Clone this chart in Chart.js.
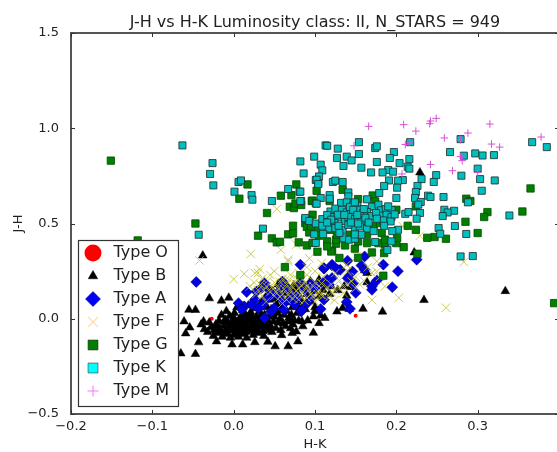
<!DOCTYPE html>
<html>
<head>
<meta charset="utf-8">
<title>J-H vs H-K</title>
<script src="https://cdn.jsdelivr.net/npm/chart.js@4"></script>
<style>
  html, body { margin: 0; padding: 0; background: #fff; overflow: hidden; }
  #wrap { width: 557px; height: 452px; overflow: hidden; }
  canvas { display: block; }
</style>
</head>
<body>
<div id="wrap"><canvas id="c" width="566" height="452"></canvas></div>
<script>
// values, [H-K, J-H]
const starsO = [[-.027,.000],[.150,.016]]

const starsB = [
  [-.038,.332],[-.030,.107],[-.055,.047],[-.047,.046],[-.015,.095],[-.006,.110],[-.061,-.014],[-.037,-.014],
  [-.054,-.046],[-.059,-.077],[-.043,-.124],[-.065,-.182],[-.047,-.185],[.051,-.145],[.067,-.145],[.079,-.119],
  [-.021,-.119],[-.002,-.135],[.011,-.135],[.026,-.123],[.042,-.121],[.059,-.086],[.072,-.075],[.077,-.067],
  [.073,-.030],[.334,.145],[.234,.098],[.183,.037],[.159,.052],[.127,.038],[.098,-.074],[.229,.768],[.222,.348],
  [.134,.056],[.142,.051],[.139,.121],[.164,.191],[.144,.166],[.136,.170],[.107,.017],[.112,.004],[.098,.012],
  [.091,-.009],[.105,-.023],[.084,-.014],[.094,.196],[.105,.205],[.161,.254],[.164,.240],
  [-.040,-.030],[-.036,-.055],[-.032,-.070],[-.030,-.020],[-.028,-.045],[-.025,-.090],[-.024,-.060],[-.022,-.030],
  [-.020,-.075],[-.018,-.010],[-.017,-.050],[-.015,.020],[-.014,-.095],[-.012,-.035],[-.011,-.065],[-.010,-.005],
  [-.009,.040],[-.008,-.080],[-.006,-.045],[-.005,.015],[-.004,-.100],[-.003,-.025],[-.002,-.060],[.000,-.085],
  [.001,.030],[.002,-.010],[.003,-.040],[.004,.060],[.005,-.070],[.006,-.095],[.007,-.025],[.008,.005],[.010,-.055],
  [.011,.045],[.012,-.080],[.013,-.015],[.014,.025],[.015,-.040],[.016,-.100],[.018,.070],[.019,-.065],[.020,-.005],
  [.021,.035],[.022,-.030],[.024,-.085],[.025,.055],[.026,-.050],[.028,.010],[.030,-.015],[.031,-.075],[.032,.040],
  [.034,.085],[.035,-.040],[.037,-.090],[.038,.020],[.040,-.060],[.041,.060],[.042,-.010],[.044,.100],[.045,-.035],
  [.047,-.070],[.048,.030],[.050,.010],[.052,-.050],[.053,.075],[.055,-.020],[.056,.120],[.058,-.060],[.060,.045],
  [.062,.020],[.064,-.040],[.066,.090],[.068,.005],[.070,-.050],[.072,.060],[.075,.140],[.078,.030],[.080,-.010],
  [.083,.100],[.085,-.040],[.088,.050],[.090,.130],[.095,.090],[.100,.060],[.060,.170],[.075,.160],[.055,.180],
  [.110,.150],[.120,.170],[.100,.040],[-.020,-.040],[-.010,-.070],[.000,-.030],[.005,-.050],[.010,-.020],
  [.015,-.070],[.020,-.045],[.025,-.020],[.030,-.045],[-.005,-.060],[.012,.010],[.022,.015],[.035,.005],
  [-.016,-.070],[-.012,-.015],[-.007,-.020],[-.003,-.050],[.000,-.055],[.000,.005],[.003,-.075],[.006,-.010],
  [.008,-.040],[.009,-.065],[.012,-.050],[.016,-.015],[.017,-.055],[.018,.010],[.023,-.060],[.024,-.005],[.027,-.035],
  [.029,-.065],[.033,-.020],[.033,.015],[.036,-.065],[.039,-.030],[.043,-.050],[.044,.015],[.046,.050],[.049,-.015],
  [.054,.030],[.057,.000],[.059,.060],[.061,-.025],[.065,.040],[.067,-.015],[.071,.020],[.074,-.005],[.077,.085],[.082,.060],
  [.040,.120],[.048,.145],[.052,.105],[.063,.135],[.069,.115],[.074,.175],[.079,.130],[.086,.165],[.093,.110],
  [.099,.145],[.106,.120],[.113,.175],[.118,.130],[.128,.150]
]

const starsA = [
  [-.046,.193],[.082,.284],[.202,.250],[.195,.166],[.184,.284],[.176,.201],[.170,.170],[.170,.152],[.150,.136],
  [.146,.248],[.147,.187],[.140,.214],[.161,.327],[.225,.310],[.140,.305],[.121,.280],[.131,.257],[.111,.263],
  [.157,.280],[.161,.257],[.139,.088],[.143,.052],[.107,.051],[.115,.205],[.121,.214],[.128,.257],[.117,.179],
  [.109,.187],[.082,.187],[.058,.170],[.078,.117],[.095,.109],[.111,.100],[.068,.100],[.083,.038],[.060,.196],
  [.056,.117],[.016,.140],[.006,.082],[.038,.187],[.028,.143],[.060,.187],[.078,.105],[.111,.266],[.121,.284],
  [.050,.056],[.030,.056],[.062,.047],[.084,.047],[.072,.117],[.042,.109],[.054,.135],[.026,.100],[.013,.065],
  [.038,.004],[.095,.187],[.082,.179],[.066,.161],[.036,.074],[.046,.038],
  [.034,.160],[.044,.150],[.048,.125],[.070,.135],[.088,.150],[.100,.160],[.063,.085],[.075,.075],[.090,.080],
  [.022,.075],[.010,.050]
]

const starsF = [
  [-.042,.306],[.021,.340],[.000,.208],[.013,.236],[.032,.261],[.026,.240],[.058,.362],[.067,.301],[.077,.389],
  [.053,.576],[.283,.298],[.261,.058],[.203,.110],[.170,.098],[.124,.098],[.229,.436],[.093,.317],[.108,.292],
  [.176,.301],[.186,.170],[.208,.485],[.139,.284],[.090,.231],[.151,.327],[.067,.310],[.176,.248],[.135,.135],
  [.107,.126],[.020,.170],[.025,.190],[.030,.150],[.035,.210],[.040,.170],[.045,.140],[.045,.230],[.050,.190],
  [.050,.120],[.055,.160],[.060,.210],[.060,.130],[.065,.180],[.065,.100],[.070,.150],[.070,.230],[.075,.120],
  [.075,.190],[.080,.160],[.080,.100],[.085,.140],[.085,.210],[.090,.110],[.090,.170],[.095,.130],[.100,.190],
  [.100,.090],[.105,.150],[.110,.220],[.110,.120],[.120,.180],[.120,.140],[.125,.240],[.130,.200],[.130,.160],
  [.140,.250],[.140,.180],[.150,.220],[.150,.160],[.160,.200],[.165,.270],[.170,.240],[.035,.120],[.030,.240],
  [.050,.250],[.040,.090],[.060,.080],[.100,.250],[.090,.270],[.080,.240],[.180,.220],
  [.028,.130],[.033,.180],[.037,.150],[.042,.200],[.047,.165],[.052,.140],[.057,.115],[.058,.190],[.062,.155],
  [.067,.125],[.068,.205],[.072,.170],[.073,.105],[.077,.145],[.078,.210],[.082,.125],[.083,.175],[.087,.095],
  [.088,.190],[.092,.150],[.097,.115],[.098,.170],[.103,.130],[.108,.185],[.115,.165],[.118,.115],[.125,.150],
  [.135,.170],[.145,.195],[.155,.180]
]

const starsG = [
  [-.151,.830],[-.047,.500],[.017,.705],[.007,.630],[.041,.555],[.058,.646],[.077,.705],[.071,.649],[.069,.588],
  [.074,.581],[.076,.605],[.083,.597],[.073,.488],[.088,.502],[.030,.436],[.047,.422],[.053,.401],[.057,.404],
  [.067,.443],[.073,.448],[.080,.401],[.063,.271],[.082,.229],[-.118,.411],[.365,.684],[.355,.563],[.312,.560],
  [.308,.534],[.285,.509],[.286,.630],[.291,.618],[.214,.488],[.224,.467],[.224,.590],[.171,.647],[.134,.677],
  [.102,.672],[.118,.618],[.096,.618],[.153,.628],[.300,.450],[.261,.420],[.247,.429],[.238,.425],[.226,.341],
  [.184,.226],[.394,.082],[.090,.385],[.103,.352],[.130,.319],[.153,.320],[.149,.368],[.137,.385],[.170,.348],
  [.185,.345],[.209,.376],[.200,.397],[.186,.389],[.126,.394],[.115,.406],[.121,.357],[.097,.620],[.120,.353],
  [.178,.397],[.201,.424],[.090,.482],[.093,.453],[.101,.467],[.105,.436],[.126,.415],[.127,.441],[.143,.441],
  [.164,.441],[.172,.485],[.182,.450],[.180,.502],[.097,.546],[.200,.572],[.174,.616],[.097,.398],[.119,.467],
  [.186,.415],[.164,.397],[.153,.406],[.095,.485],[.093,.516],[.115,.380]
]

const starsK = [
  [-.063,.910],[-.026,.817],[-.029,.760],[-.025,.700],[.006,.718],[.009,.726],[.001,.667],[.022,.649],[.023,.625],
  [.047,.618],[.036,.473],[.082,.826],[.086,.763],[.067,.681],[.081,.667],[.083,.618],[.088,.523],[-.043,.441],
  [.113,.910],[.115,.908],[.128,.893],[.154,.927],[.174,.896],[.176,.905],[.197,.875],[.217,.927],[.279,.943],
  [.266,.875],[.367,.927],[.385,.901],[.297,.868],[.306,.857],[.320,.859],[.283,.856],[.099,.851],[.127,.844],
  [.139,.851],[.145,.831],[.154,.865],[.192,.844],[.216,.838],[.204,.817],[.176,.823],[.107,.809],[.135,.802],
  [.214,.798],[.216,.788],[.157,.793],[.109,.779],[.190,.781],[.196,.772],[.183,.768],[.169,.768],[.105,.747],
  [.249,.754],[.280,.751],[.300,.788],[.303,.733],[.321,.726],[.231,.733],[.246,.718],[.191,.726],[.208,.728],
  [.202,.725],[.101,.728],[.104,.710],[.122,.718],[.125,.725],[.134,.718],[.226,.697],[.185,.697],[.201,.688],
  [.082,.667],[.118,.649],[.141,.663],[.179,.660],[.224,.665],[.305,.672],[.223,.634],[.200,.634],[.239,.646],
  [.242,.639],[.258,.639],[.288,.611],[.082,.618],[.101,.605],[.230,.613],[.227,.599],[.271,.567],[.259,.572],
  [.263,.558],[.257,.539],[.339,.542],[.229,.555],[.211,.551],[.215,.560],[.225,.525],[.252,.476],[.272,.487],
  [.286,.445],[.279,.327],[.294,.329],[.254,.446],[.102,.730],[.104,.707],[.118,.630],[.107,.634],[.102,.604],
  [.141,.642],[.164,.627],[.132,.608],[.139,.611],[.147,.597],[.152,.593],[.170,.588],[.178,.599],[.181,.569],
  [.187,.576],[.194,.571],[.119,.563],[.125,.578],[.133,.572],[.139,.558],[.147,.558],[.155,.572],[.159,.555],
  [.164,.560],[.169,.539],[.182,.541],[.188,.546],[.194,.534],[.184,.516],[.193,.511],[.185,.488],[.202,.467],
  [.195,.460],[.088,.529],[.093,.513],[.101,.500],[.109,.523],[.122,.534],[.128,.532],[.137,.513],[.141,.534],
  [.149,.523],[.157,.513],[.124,.502],[.116,.474],[.109,.488],[.125,.476],[.134,.467],[.149,.473],[.141,.493],
  [.164,.474],[.155,.485],[.099,.443],[.110,.445],[.135,.422],[.142,.415],[.149,.420],[.157,.441],[.149,.443],
  [.174,.403],[.194,.406],[.101,.398],[.189,.361],[.128,.546],[.143,.587],[.149,.611],[.147,.572],[.160,.576],
  [.115,.545],[.120,.520],[.129,.488],[.136,.545],[.144,.505],[.152,.545],[.153,.500],[.162,.530],[.166,.505],
  [.175,.555],[.176,.525],[.190,.590],[.198,.548],[.115,.505],[.130,.450],[.172,.460]
]

const starsM = [
  [.166,1.010],[.209,1.019],[.224,.985],[.241,1.024],[.242,1.038],[.249,1.052],[.288,.975],[.259,.949],[.279,.940],
  [.315,1.022],[.317,.917],[.327,.901],[.378,.954],[.216,.927],[.211,.915],[.148,.908],[.242,.810],[.207,.760],
  [.279,.851],[.281,.830],[.269,.777],[.300,.768]
]

const typeNames = ['Type O', 'Type B', 'Type A', 'Type F', 'Type G', 'Type K', 'Type M']
const starLists = [starsO, starsB, starsA, starsF, starsG, starsK, starsM]
const xTicks = [-0.2, -0.1, 0.0, 0.1, 0.2, 0.3]
const yTicks = [-0.5, 0.0, 0.5, 1.0, 1.5]

const FONT = '"DejaVu Sans", sans-serif'
const INK = '#222'

// look of the marks in the plot and in the legend (the legend ones differ a bit)
const marks = [
  { pointStyle: 'circle', radius: 2, backgroundColor: '#ff0000', borderColor: '#ff0000', borderWidth: 0 },
  { pointStyle: 'triangle', radius: 5, backgroundColor: '#000', borderColor: '#000', borderWidth: 0.5 },
  { pointStyle: 'rectRot', radius: 5.5, backgroundColor: '#0000e0', borderColor: '#000060', borderWidth: 0.5 },
  { pointStyle: 'crossRot', radius: 6, backgroundColor: 'transparent', borderColor: 'rgba(192,192,40,0.8)', borderWidth: 1 },
  { pointStyle: 'rect', radius: 5.2, backgroundColor: '#007f00', borderColor: '#004d00', borderWidth: 0.8 },
  { pointStyle: 'rect', radius: 5, backgroundColor: '#00bfbf', borderColor: 'rgba(30,50,50,0.85)', borderWidth: 1 },
  { pointStyle: 'cross', radius: 3.8, backgroundColor: 'transparent', borderColor: '#d84fd8', borderWidth: 1 }
]
const legendMarks = [
  { pointStyle: 'circle', radius: 8.5, backgroundColor: '#ff0000', borderColor: '#ff0000', borderWidth: 0 },
  { pointStyle: 'triangle', radius: 5.5, backgroundColor: '#000', borderColor: '#000', borderWidth: 0.5 },
  { pointStyle: 'rectRot', radius: 7.5, backgroundColor: '#0000ff', borderColor: '#000050', borderWidth: 0.5 },
  { pointStyle: 'crossRot', radius: 7, backgroundColor: 'transparent', borderColor: '#ffd8a0', borderWidth: 1.2 },
  { pointStyle: 'rect', radius: 7, backgroundColor: '#007f00', borderColor: '#222', borderWidth: 0.6 },
  { pointStyle: 'rect', radius: 7, backgroundColor: '#00ffff', borderColor: '#333', borderWidth: 0.6 },
  { pointStyle: 'cross', radius: 5.5, backgroundColor: 'transparent', borderColor: '#ff70ff', borderWidth: 1 }
]

// frame and inward ticks, matplotlib style
const framePlugin = {
  id: 'frame',
  afterDatasetsDraw(chart) {
    const { ctx, chartArea: a, scales } = chart
    ctx.save()
    ctx.strokeStyle = '#555'
    ctx.lineWidth = 2
    ctx.strokeRect(a.left, a.top, a.right - a.left, a.bottom - a.top)
    ctx.lineWidth = 1
    ctx.strokeStyle = '#333'
    ctx.beginPath()
    xTicks.forEach(v => {
      const p = Math.round(scales.x.getPixelForValue(v)) + 0.5
      ctx.moveTo(p, a.bottom); ctx.lineTo(p, a.bottom - 4)
      ctx.moveTo(p, a.top); ctx.lineTo(p, a.top + 4)
    })
    yTicks.forEach(v => {
      const p = Math.round(scales.y.getPixelForValue(v)) + 0.5
      ctx.moveTo(a.left, p); ctx.lineTo(a.left + 4, p)
      ctx.moveTo(a.right, p); ctx.lineTo(a.right - 4, p)
    })
    ctx.stroke()
    ctx.restore()
  }
}

// legend sits inside the axes, lower left, on top of the points
const boxLegendPlugin = {
  id: 'boxLegend',
  afterDraw(chart) {
    const { ctx } = chart
    const box = { x: 78.5, y: 240.5, w: 100, h: 166 }
    ctx.save()
    ctx.fillStyle = '#fff'
    ctx.strokeStyle = '#333'
    ctx.lineWidth = 1.2
    ctx.fillRect(box.x, box.y, box.w, box.h)
    ctx.strokeRect(box.x, box.y, box.w, box.h)
    ctx.textBaseline = 'middle'
    ctx.font = '16px ' + FONT
    chart.data.datasets.forEach((ds, i) => {
      const y = box.y + 12.5 + i * 23
      const m = legendMarks[i]
      ctx.fillStyle = m.backgroundColor
      ctx.strokeStyle = m.borderColor
      ctx.lineWidth = m.borderWidth
      Chart.helpers.drawPoint(ctx, { pointStyle: m.pointStyle, radius: m.radius, borderWidth: m.borderWidth, rotation: 0 }, box.x + 14.5, y)
      ctx.fillStyle = INK
      ctx.fillText(ds.label, box.x + 35, y)
    })
    ctx.restore()
  }
}

new Chart(document.getElementById('c'), {
  type: 'scatter',
  data: {
    datasets: typeNames.map((name, i) => ({
      label: name,
      data: starLists[i].map(p => ({ x: p[0], y: p[1] })),
      order: typeNames.length - i,
      pointStyle: marks[i].pointStyle,
      pointRadius: marks[i].radius,
      pointBackgroundColor: marks[i].backgroundColor,
      pointBorderColor: marks[i].borderColor,
      pointBorderWidth: marks[i].borderWidth
    }))
  },
  options: {
    responsive: false,
    animation: false,
    layout: { padding: { left: 0, right: 1, top: 0, bottom: 0 } },
    plugins: {
      legend: { display: false },
      tooltip: { enabled: false },
      title: {
        display: true,
        fullSize: false,
        text: 'J-H vs H-K Luminosity class: II, N_STARS = 949',
        color: INK,
        font: { family: FONT, size: 16, weight: 'normal', lineHeight: 1.2 },
        padding: { top: 13, bottom: 0.8 }
      }
    },
    scales: {
      x: {
        type: 'linear',
        min: -0.2,
        max: 0.4,
        afterFit(s) { s.height = 38; s.paddingLeft = 0; s.paddingRight = 0 },
        afterBuildTicks(s) { s.ticks = xTicks.map(v => ({ value: v })) },
        border: { display: false },
        grid: { display: false },
        ticks: {
          color: INK,
          padding: -3,
          maxRotation: 0,
          font: { family: FONT, size: 13 },
          callback: v => (v < 0 ? '\u2212' : '') + Math.abs(v).toFixed(1)
        },
        title: { display: true, text: 'H-K', color: INK, font: { family: FONT, size: 13 }, padding: { top: 2, bottom: 0 } }
      },
      y: {
        type: 'linear',
        min: -0.5,
        max: 1.5,
        afterFit(s) { s.width = 71; s.paddingTop = 0; s.paddingBottom = 0 },
        afterBuildTicks(s) { s.ticks = yTicks.map(v => ({ value: v })) },
        border: { display: false },
        grid: { display: false },
        ticks: {
          color: INK,
          padding: 4,
          font: { family: FONT, size: 13 },
          callback: v => (v < 0 ? '\u2212' : '') + Math.abs(v).toFixed(1)
        },
        title: { display: true, text: 'J-H', color: INK, font: { family: FONT, size: 13 }, padding: { top: 11, bottom: 0 } }
      }
    }
  },
  plugins: [framePlugin, boxLegendPlugin]
})
</script>
</body>
</html>
